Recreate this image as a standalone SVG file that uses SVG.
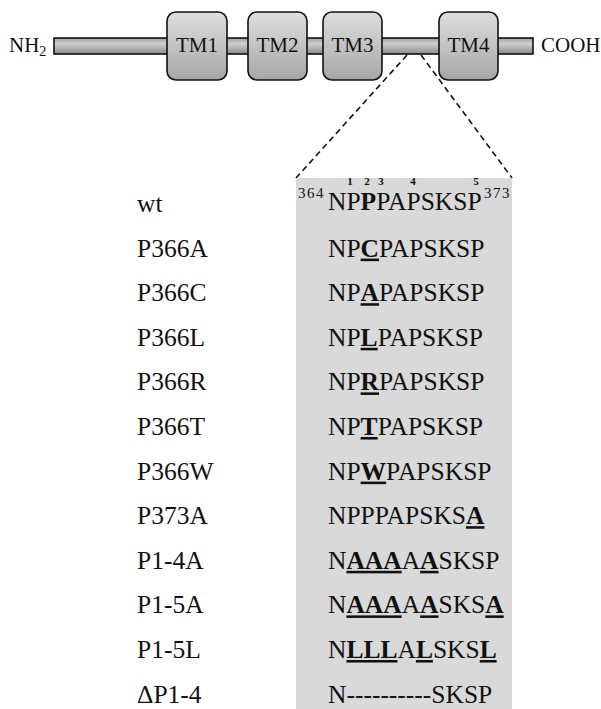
<svg xmlns="http://www.w3.org/2000/svg" width="601" height="709" viewBox="0 0 601 709" font-family="'Liberation Serif', 'Times New Roman', 'DejaVu Serif', serif">
  <defs>
    <linearGradient id="barFill" x1="0" y1="0" x2="0" y2="1">
      <stop offset="0" stop-color="#9c9c9c"/>
      <stop offset="0.35" stop-color="#cfcfcf"/>
      <stop offset="1" stop-color="#8c8c8c"/>
    </linearGradient>
    <linearGradient id="tmFill" x1="0" y1="0" x2="0" y2="1">
      <stop offset="0" stop-color="#dedede"/>
      <stop offset="1" stop-color="#a6a6a6"/>
    </linearGradient>
  </defs>
  <style>
    text { font-family: 'Liberation Serif', 'Times New Roman', 'DejaVu Serif', serif; fill: #111; }
    .top { font-size: 21px; }
    .tmlabel { font-size: 21px; text-anchor: middle; }
    .tm { fill: url(#tmFill); stroke: #111; stroke-width: 1.6; }
    .bar { fill: url(#barFill); stroke: #111; stroke-width: 1.6; }
    .zoom { stroke: #111; stroke-width: 1.6; stroke-dasharray: 6 4; fill: none; }
    .name { font-size: 25.5px; }
    .seq { font-size: 25.5px; }
    .sup { font-size: 15px; letter-spacing: 1.5px; }
    .pos { font-size: 11px; font-weight: bold; text-anchor: middle; }
    .mut { font-weight: bold; text-decoration: underline; text-decoration-thickness: 2.2px; text-underline-offset: 3px; }
    .b { font-weight: bold; }
  </style>

  <!-- protein topology -->
  <g id="protein">
    <rect class="bar" x="54" y="38" width="479" height="16"/>
    <text class="top" x="9" y="52">NH<tspan font-size="14" dy="4">2</tspan></text>
    <text class="top" x="541" y="52">COOH</text>
  </g>
  <g id="tm1">
    <rect class="tm" x="167" y="12" width="60" height="68" rx="9"/>
    <text class="tmlabel" x="197" y="52">TM1</text>
  </g>
  <g id="tm2">
    <rect class="tm" x="248" y="12" width="59" height="68" rx="9"/>
    <text class="tmlabel" x="277.5" y="52">TM2</text>
  </g>
  <g id="tm3">
    <rect class="tm" x="323" y="12" width="59" height="68" rx="9"/>
    <text class="tmlabel" x="352.5" y="52">TM3</text>
  </g>
  <g id="tm4">
    <rect class="tm" x="439" y="12" width="59" height="68" rx="9"/>
    <text class="tmlabel" x="468.5" y="52">TM4</text>
  </g>

  <!-- expanded region -->
  <g id="connectors">
    <line class="zoom" x1="407" y1="55" x2="296" y2="178"/>
    <line class="zoom" x1="421" y1="55" x2="512" y2="178"/>
  </g>
  <g id="panel">
    <rect x="296" y="178" width="216" height="531" fill="#d9d9d9"/>
  </g>

  <!-- position markers -->
  <g id="positions">
    <text class="sup" x="298" y="198">364</text>
    <text class="sup" x="484" y="198">373</text>
    <text class="pos" x="350" y="184.5">1</text>
    <text class="pos" x="367" y="184.5">2</text>
    <text class="pos" x="381" y="184.5">3</text>
    <text class="pos" x="413" y="184.5">4</text>
    <text class="pos" x="476" y="184.5">5</text>
  </g>

  <!-- variant names -->
  <g id="names">
    <text class="name" x="137" y="212">wt</text>
    <text class="name" x="137" y="256.6">P366A</text>
    <text class="name" x="137" y="301.2">P366C</text>
    <text class="name" x="137" y="345.8">P366L</text>
    <text class="name" x="137" y="390.4">P366R</text>
    <text class="name" x="137" y="435">P366T</text>
    <text class="name" x="137" y="479.6">P366W</text>
    <text class="name" x="137" y="524.2">P373A</text>
    <text class="name" x="137" y="568.8">P1-4A</text>
    <text class="name" x="137" y="613.4">P1-5A</text>
    <text class="name" x="137" y="658">P1-5L</text>
    <text class="name" x="137" y="702.6">ΔP1-4</text>
  </g>

  <!-- sequences -->
  <g id="sequences">
    <text class="seq" x="328" y="210">NP<tspan class="b">P</tspan>PAPSKSP</text>
    <text class="seq" x="328" y="256.6">NP<tspan class="mut">C</tspan>PAPSKSP</text>
    <text class="seq" x="328" y="301.2">NP<tspan class="mut">A</tspan>PAPSKSP</text>
    <text class="seq" x="328" y="345.8">NP<tspan class="mut">L</tspan>PAPSKSP</text>
    <text class="seq" x="328" y="390.4">NP<tspan class="mut">R</tspan>PAPSKSP</text>
    <text class="seq" x="328" y="435">NP<tspan class="mut">T</tspan>PAPSKSP</text>
    <text class="seq" x="328" y="479.6">NP<tspan class="mut">W</tspan>PAPSKSP</text>
    <text class="seq" x="328" y="524.2">NPPPAPSKS<tspan class="mut">A</tspan></text>
    <text class="seq" x="328" y="568.8">N<tspan class="mut">AAA</tspan>A<tspan class="mut">A</tspan>SKSP</text>
    <text class="seq" x="328" y="613.4">N<tspan class="mut">AAA</tspan>A<tspan class="mut">A</tspan>SKS<tspan class="mut">A</tspan></text>
    <text class="seq" x="328" y="658">N<tspan class="mut">LLL</tspan>A<tspan class="mut">L</tspan>SKS<tspan class="mut">L</tspan></text>
    <text class="seq" x="328" y="702.6">N----------SKSP</text>
  </g>
</svg>
